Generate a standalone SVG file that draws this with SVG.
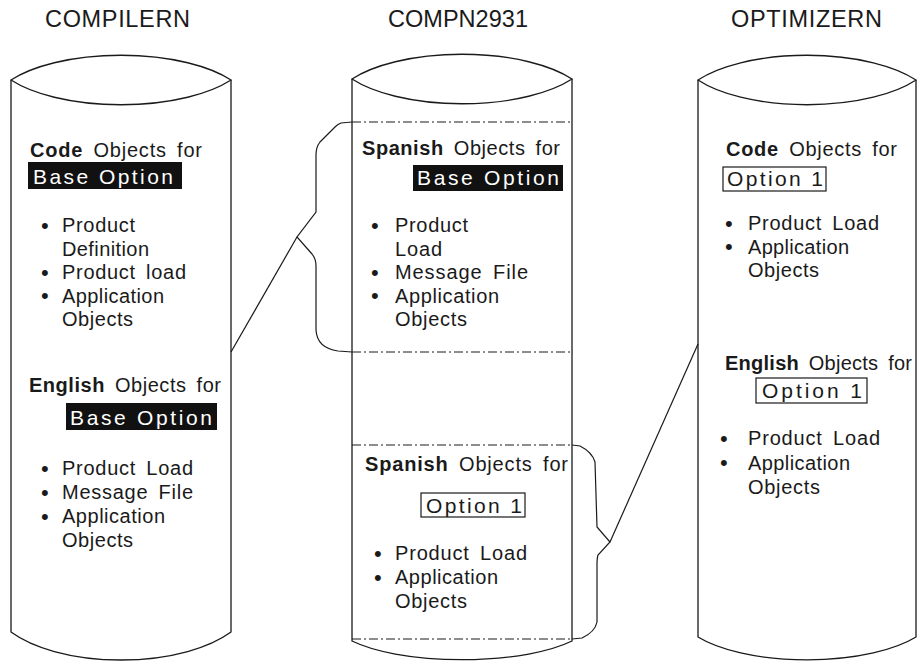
<svg xmlns="http://www.w3.org/2000/svg" width="920" height="662" viewBox="0 0 920 662">
<style>
 .cyl{fill:none;stroke:#1a1a1a;stroke-width:1.3}
 .dd{fill:none;stroke:#1a1a1a;stroke-width:1;stroke-dasharray:9 3 2 3}
 .ln{fill:none;stroke:#1a1a1a;stroke-width:1.2}
 text{font-family:"Liberation Sans",Arial,sans-serif;fill:#1a1a1a}
 .t{font-size:23.5px}
 .b{font-size:20px;word-spacing:4px}
 .u{font-size:22px}
 .bd{font-weight:bold}
 .bx{font-size:21px}
 text.w{fill:#ffffff}
 .blk{fill:#111111}
 .obox{fill:none;stroke:#1a1a1a;stroke-width:1.2}
</style>
<rect width="920" height="662" fill="#ffffff"/>

<g id="compilern">
 <path class="cyl" d="M11,80 A130,53 0 0 1 231,80 A130,53 0 0 1 11,80 Z"/>
 <path class="cyl" d="M11,80 L11,632 A130,60 0 0 0 231,632 L231,80"/>
 <text class="t" x="45" y="27" textLength="145" lengthAdjust="spacing">COMPILERN</text>
 <text class="b" x="30" y="157" textLength="172" lengthAdjust="spacing"><tspan class="bd">Code</tspan> Objects for</text>
 <rect class="blk" x="28" y="162" width="154" height="27"/>
 <text class="bx w" x="33" y="183.5" textLength="140" lengthAdjust="spacing">Base Option</text>
 <text class="u" x="41" y="232.5">•</text>
 <text class="b" x="62" y="232" textLength="73" lengthAdjust="spacing">Product</text>
 <text class="b" x="62" y="255.5" textLength="87" lengthAdjust="spacing">Definition</text>
 <text class="u" x="41" y="279.5">•</text>
 <text class="b" x="62" y="279" textLength="124" lengthAdjust="spacing">Product load</text>
 <text class="u" x="41" y="303">•</text>
 <text class="b" x="62" y="302.5" textLength="102" lengthAdjust="spacing">Application</text>
 <text class="b" x="62" y="326" textLength="71" lengthAdjust="spacing">Objects</text>
 <text class="b" x="29" y="392" textLength="192" lengthAdjust="spacing"><tspan class="bd">English</tspan> Objects for</text>
 <rect class="blk" x="66" y="403" width="151" height="27"/>
 <text class="bx w" x="70" y="424.5" textLength="142" lengthAdjust="spacing">Base Option</text>
 <text class="u" x="41" y="475.5">•</text>
 <text class="b" x="62" y="475" textLength="131" lengthAdjust="spacing">Product Load</text>
 <text class="u" x="41" y="499.5">•</text>
 <text class="b" x="62" y="499" textLength="131" lengthAdjust="spacing">Message File</text>
 <text class="u" x="41" y="523.5">•</text>
 <text class="b" x="62" y="523" textLength="103" lengthAdjust="spacing">Application</text>
 <text class="b" x="62" y="547" textLength="71" lengthAdjust="spacing">Objects</text>
</g>

<g id="compn2931">
 <path class="cyl" d="M352,79 A130,53 0 0 1 572,79 A130,53 0 0 1 352,79 Z"/>
 <path class="cyl" d="M352,79 L352,641 A130,40 0 0 0 572,641 L572,79"/>
 <line class="dd" x1="352" y1="122" x2="572" y2="122"/>
 <line class="dd" x1="352" y1="352" x2="572" y2="352"/>
 <line class="dd" x1="352" y1="445" x2="572" y2="445"/>
 <line class="dd" x1="352" y1="639" x2="572" y2="639"/>
 <text class="t" x="388" y="27" textLength="140" lengthAdjust="spacing">COMPN2931</text>
 <text class="b" x="362" y="155" textLength="198" lengthAdjust="spacing"><tspan class="bd">Spanish</tspan> Objects for</text>
 <rect class="blk" x="413" y="165" width="150" height="26"/>
 <text class="bx w" x="417" y="185" textLength="142" lengthAdjust="spacing">Base Option</text>
 <text class="u" x="371" y="232.5">•</text>
 <text class="b" x="395" y="232" textLength="73" lengthAdjust="spacing">Product</text>
 <text class="b" x="395" y="255.5" textLength="47" lengthAdjust="spacing">Load</text>
 <text class="u" x="371" y="279.5">•</text>
 <text class="b" x="395" y="279" textLength="133" lengthAdjust="spacing">Message File</text>
 <text class="u" x="371" y="303">•</text>
 <text class="b" x="395" y="302.5" textLength="104" lengthAdjust="spacing">Application</text>
 <text class="b" x="395" y="326" textLength="72" lengthAdjust="spacing">Objects</text>
 <text class="b" x="365" y="471" textLength="203" lengthAdjust="spacing"><tspan class="bd">Spanish</tspan> Objects for</text>
 <rect class="obox" x="421" y="493" width="104" height="24"/>
 <text class="bx" x="426" y="512.5" textLength="96" lengthAdjust="spacing">Option 1</text>
 <text class="u" x="374" y="560.5">•</text>
 <text class="b" x="395" y="560" textLength="132" lengthAdjust="spacing">Product Load</text>
 <text class="u" x="374" y="584.5">•</text>
 <text class="b" x="395" y="584" textLength="103" lengthAdjust="spacing">Application</text>
 <text class="b" x="395" y="608" textLength="72" lengthAdjust="spacing">Objects</text>
</g>

<g id="optimizern">
 <path class="cyl" d="M698,80 A128,52 0 0 1 916,80 A128,52 0 0 1 698,80 Z"/>
 <path class="cyl" d="M698,80 L698,637 A128,48 0 0 0 916,637 L916,80"/>
 <text class="t" x="731" y="27" textLength="151" lengthAdjust="spacing">OPTIMIZERN</text>
 <text class="b" x="726" y="156" textLength="171" lengthAdjust="spacing"><tspan class="bd">Code</tspan> Objects for</text>
 <rect class="obox" x="723" y="167" width="103" height="24"/>
 <text class="bx" x="727" y="185.5" textLength="96" lengthAdjust="spacing">Option 1</text>
 <text class="u" x="725" y="230.5">•</text>
 <text class="b" x="748" y="230" textLength="131" lengthAdjust="spacing">Product Load</text>
 <text class="u" x="725" y="254">•</text>
 <text class="b" x="748" y="253.5" textLength="101" lengthAdjust="spacing">Application</text>
 <text class="b" x="748" y="277" textLength="71" lengthAdjust="spacing">Objects</text>
 <text class="b" x="725" y="370" textLength="187" lengthAdjust="spacing"><tspan class="bd">English</tspan> Objects for</text>
 <rect class="obox" x="756" y="378" width="111" height="25"/>
 <text class="bx" x="762" y="398" textLength="100" lengthAdjust="spacing">Option 1</text>
 <text class="u" x="720" y="445.5">•</text>
 <text class="b" x="748" y="445" textLength="132" lengthAdjust="spacing">Product Load</text>
 <text class="u" x="720" y="470">•</text>
 <text class="b" x="748" y="469.5" textLength="102" lengthAdjust="spacing">Application</text>
 <text class="b" x="748" y="494" textLength="72" lengthAdjust="spacing">Objects</text>
</g>

<g id="connectors">
 <line class="ln" x1="231" y1="352" x2="297" y2="237"/>
 <path class="ln" d="M352,122 L341,123 Q338,124 335,127 L320,142 Q316,147 316,155 L316,212 L297,237 L312,254 Q316,259 316,266 L316,330 Q317,348 338,351 L352,352"/>
 <line class="ln" x1="610" y1="542" x2="698" y2="344"/>
 <path class="ln" d="M572,445 L580,446 Q592,452 595,462 L597,527 L610,542 L598,555 Q597,558 597,565 L597,622 Q595,632 582,638 L572,639"/>
</g>
</svg>
